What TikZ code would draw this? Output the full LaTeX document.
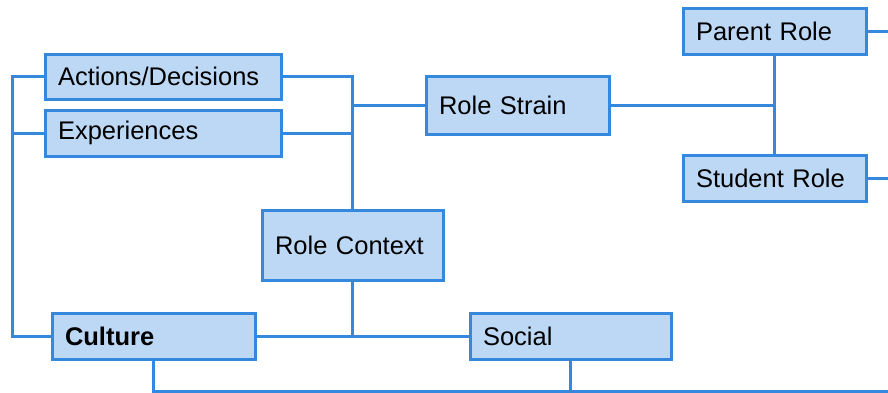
\documentclass[tikz,border=0pt]{standalone}
\usepackage{fontspec}
\setmainfont{Liberation Sans}
\definecolor{edgeblue}{RGB}{52,137,222}
\definecolor{boxfill}{RGB}{189,216,245}
\begin{document}
\begin{tikzpicture}[x=1pt,y=-1pt,
  box/.style={draw=edgeblue,fill=boxfill,line width=3pt,rectangle,
    inner xsep=13pt,inner ysep=0pt,align=left,
    font=\fontsize{25.5}{29}\selectfont,text=black},
  link/.style={draw=edgeblue,line width=3pt}]
\useasboundingbox (0,0) rectangle (888,392);
% connectors first (behind boxes)
\coordinate (lt) at (12,76.5);
\coordinate (le) at (12,133);
\coordinate (lb) at (12,336);
\coordinate (mt) at (352.5,76.5);
\coordinate (me) at (352.5,133);
\coordinate (mr) at (352.5,105);
\coordinate (rj) at (774.5,105);
\coordinate (pe) at (888,31);
\coordinate (se) at (888,178);
\coordinate (cj) at (352.5,336);
\coordinate (bc) at (153.5,391);
\coordinate (bs) at (570.5,391);
\coordinate (be) at (888,391);
% nodes
\node[box,text width=210pt,minimum height=45pt] (act) at (163,76.5) {Actions/Decisions};
\node[box,text width=210pt,minimum height=46pt] (exp) at (163,133) {Experiences};
\node[box,text width=157pt,minimum height=58pt] (rs) at (517.5,105) {Role Strain};
\node[box,text width=157pt,minimum height=46pt] (pr) at (774.5,31) {Parent Role};
\node[box,text width=157pt,minimum height=46pt] (sr) at (774.5,178) {Student Role};
\node[box,text width=155pt,minimum height=70pt] (rc) at (352.5,245) {Role Context};
\node[box,text width=177pt,minimum height=46pt] (cu) at (153.5,336) {\textbf{Culture}};
\node[box,text width=175pt,minimum height=46pt] (so) at (570.5,336) {Social};
% connectors
\draw[link] (act.west) -- (lt) -- (lb) -- (cu.west);
\draw[link] (exp.west) -- (le);
\draw[link] (act.east) -- (mt) -- (rc.north);
\draw[link] (exp.east) -- (me);
\draw[link] (mr) -- (rs.west);
\draw[link] (rs.east) -- (rj);
\draw[link] (pr.south) -- (sr.north);
\draw[link] (pr.east) -- (pe);
\draw[link] (sr.east) -- (se);
\draw[link] (rc.south) -- (cj);
\draw[link] (cu.east) -- (so.west);
\draw[link] (cu.south) -- (bc) -- (be);
\draw[link] (so.south) -- (bs);
\end{tikzpicture}
\end{document}
